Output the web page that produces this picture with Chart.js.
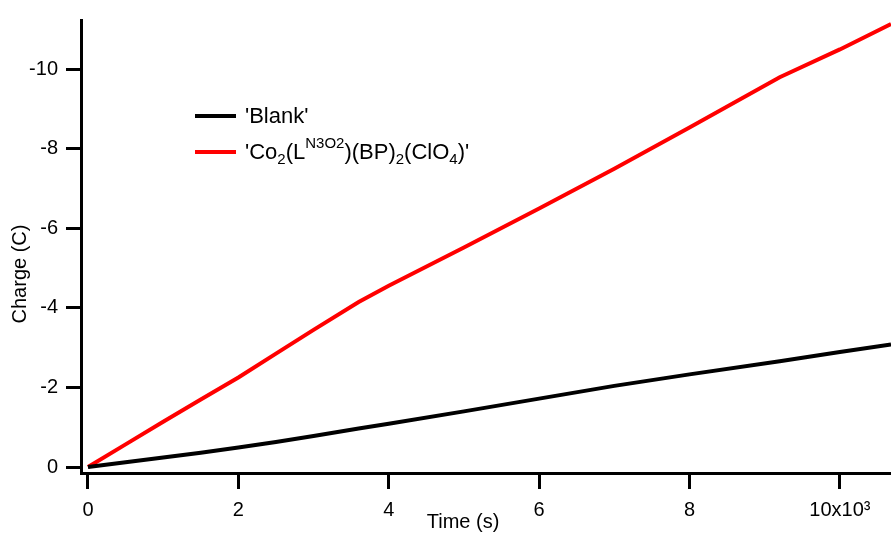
<!DOCTYPE html>
<html>
<head>
<meta charset="utf-8">
<script src="https://cdn.jsdelivr.net/npm/chart.js@4.4.1/dist/chart.umd.min.js"></script>
<style>
  html, body { margin: 0; padding: 0; background: #fff; }
  #chart { display: block; }
</style>
</head>
<body>
<canvas id="chart" width="891" height="533"></canvas>
<script>
// time in seconds, charge in coulombs
const timeS = [0, 500, 1000, 1500, 2000, 2500, 3000, 3600, 4000, 5000, 6000, 7000, 8000, 9200, 10000, 10680];
const chargeBlank = [0, -0.12, -0.24, -0.36, -0.49, -0.63, -0.78, -0.97, -1.09, -1.4, -1.72, -2.04, -2.33, -2.66, -2.89, -3.08];
const chargeComplex = [0, -0.57, -1.14, -1.7, -2.25, -2.85, -3.45, -4.15, -4.56, -5.52, -6.5, -7.5, -8.54, -9.8, -10.5, -11.14];

const xTicks = [0, 2000, 4000, 6000, 8000, 10000];
const yTicks = [0, -2, -4, -6, -8, -10];

const FONT = '"Liberation Sans", Arial, sans-serif';

// legend text pieces: [text, kind]
const blankLabel = [["'Blank'", '']];
const complexLabel = [
    ["'Co", ''], ['2', 'sub'], ['(L', ''], ['N3O2', 'sup'], [')(BP)', ''],
    ['2', 'sub'], ['(ClO', ''], ['4', 'sub'], [")'", '']
];

function drawRuns(ctx, runs, x, y) {
    runs.forEach(([txt, kind]) => {
        if (kind === 'sub') {
            ctx.font = '15px ' + FONT;
            ctx.fillText(txt, x, y + 5);
        } else if (kind === 'sup') {
            ctx.font = '15px ' + FONT;
            ctx.fillText(txt, x, y - 11);
        } else {
            ctx.font = '22px ' + FONT;
            ctx.fillText(txt, x, y);
        }
        x += ctx.measureText(txt).width;
    });
}

const textPlugin = {
    id: 'textPlugin',
    afterDraw(chart) {
        const ctx = chart.ctx;
        ctx.save();
        ctx.fillStyle = '#000';
        ctx.textBaseline = 'alphabetic';
        ctx.textAlign = 'left';

        // legend
        const items = [
            { color: '#000000', y: 116, runs: blankLabel },
            { color: '#ff0000', y: 152, runs: complexLabel }
        ];
        items.forEach(it => {
            ctx.strokeStyle = it.color;
            ctx.lineWidth = 4;
            ctx.beginPath();
            ctx.moveTo(195, it.y);
            ctx.lineTo(236, it.y);
            ctx.stroke();
            drawRuns(ctx, it.runs, 245, it.y + 7);
        });

        // axis titles
        ctx.textAlign = 'center';
        ctx.textBaseline = 'middle';
        ctx.font = '20px ' + FONT;
        ctx.fillText('Time (s)', 463, 522);
        ctx.translate(20, 274);
        ctx.rotate(-Math.PI / 2);
        ctx.fillText('Charge (C)', 0, 0);
        ctx.restore();
    }
};

new Chart(document.getElementById('chart'), {
    type: 'line',
    data: {
        labels: timeS,
        datasets: [
            {
                label: "'Blank'",
                data: timeS.map((t, i) => ({ x: t, y: chargeBlank[i] })),
                borderColor: '#000000',
                borderWidth: 4,
                pointRadius: 0,
                tension: 0
            },
            {
                label: "'Co2(LN3O2)(BP)2(ClO4)'",
                data: timeS.map((t, i) => ({ x: t, y: chargeComplex[i] })),
                borderColor: '#ff0000',
                borderWidth: 4,
                pointRadius: 0,
                tension: 0
            }
        ]
    },
    options: {
        responsive: false,
        animation: false,
        layout: { padding: { top: 13, right: 0, left: 0, bottom: 0 } },
        plugins: {
            legend: { display: false },
            tooltip: { enabled: false }
        },
        scales: {
            x: {
                type: 'linear',
                min: -93,
                max: 10680,
                afterBuildTicks: s => { s.ticks = xTicks.map(v => ({ value: v })); },
                afterFit: s => { s.height = 60; },
                border: { display: true, color: '#000', width: 3 },
                grid: { drawOnChartArea: false, color: '#000', lineWidth: 3, tickLength: 16 },
                ticks: {
                    color: '#000',
                    font: { family: FONT, size: 20 },
                    padding: 9,
                    maxRotation: 0,
                    callback: v => v === 10000 ? '10x10\u00B3' : String(v / 1000)
                }
            },
            y: {
                type: 'linear',
                reverse: true,
                min: -11.24,
                max: 0.15,
                afterBuildTicks: s => { s.ticks = yTicks.map(v => ({ value: v })); },
                afterFit: s => { s.width = 81; },
                border: { display: true, color: '#000', width: 3 },
                grid: { drawOnChartArea: false, color: '#000', lineWidth: 3, tickLength: 15 },
                ticks: {
                    color: '#000',
                    font: { family: FONT, size: 20 },
                    padding: 8
                }
            }
        }
    },
    plugins: [textPlugin]
});
</script>
</body>
</html>
